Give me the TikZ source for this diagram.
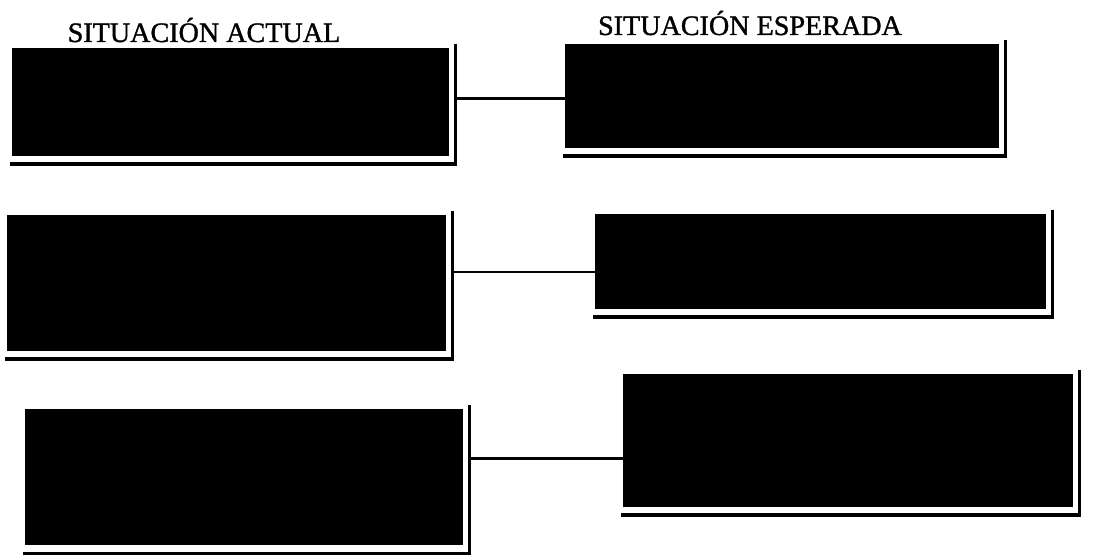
\documentclass[tikz,border=0pt]{standalone}
\usepackage{fontspec}
\setmainfont{Liberation Serif}
\newfontfamily\headfont[FakeBold=1.2]{Liberation Serif}
\usetikzlibrary{calc,positioning}

\begin{document}
\begin{tikzpicture}[
		blackbox/.style={fill=black, draw=black, inner sep=0pt},
		shadeline/.style={line width=2pt},
		link/.style={line width=1.4pt},
		heading/.style={anchor=base, font=\headfont\fontsize{16}{19}\selectfont}] %
		\useasboundingbox (0,0) rectangle (22.16,11.12) ;
		% Headings
		\node[heading] (actual) at (4.08,10.28) {SITUACIÓN ACTUAL} ;
		\node[heading] (esperada) at (15.00,10.42) {SITUACIÓN ESPERADA} ;
		% Left column
		\node[blackbox, minimum width=8.72cm, minimum height=2.14cm] (act1) at (4.60,9.09) {} ;
		\node[blackbox, minimum width=8.76cm, minimum height=2.70cm] (act2) at (4.52,5.47) {} ;
		\node[blackbox, minimum width=8.74cm, minimum height=2.70cm] (act3) at (4.87,1.58) {} ;
		% Right column
		\node[blackbox, minimum width=8.66cm, minimum height=2.06cm] (esp1) at (15.63,9.21) {} ;
		\node[blackbox, minimum width=9.00cm, minimum height=1.88cm] (esp2) at (16.40,5.90) {} ;
		\node[blackbox, minimum width=8.98cm, minimum height=2.64cm] (esp3) at (16.95,2.32) {} ;
		% Shadows
		\foreach \b in {act1,act2,act3,esp1,esp2,esp3} {
			\draw[shadeline] ($(\b.north east)+(0.14,0.08)$) |- ($(\b.south west)+(-0.04,-0.17)$) ;
		}
		% Links
		\foreach \i in {1,2,3} {
			\coordinate (m\i) at ($(act\i.east)!0.5!(esp\i.west)$) ;
			\draw[link] ($(act\i.east |- m\i)+(0.14,0)$) -- (esp\i.west |- m\i) ;
		}
	\end{tikzpicture}
\end{document}
